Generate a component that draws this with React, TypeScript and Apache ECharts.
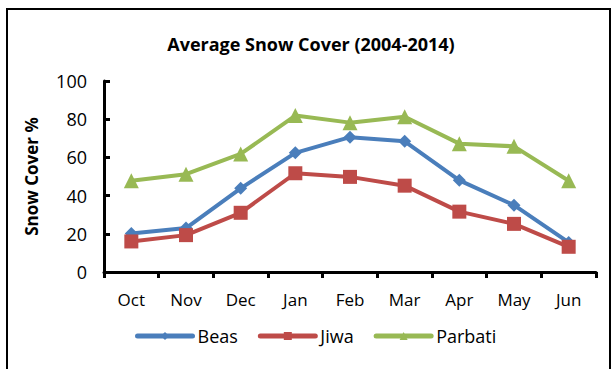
import React, { useEffect, useRef } from "react";
import * as echarts from "echarts";

const months = ["Oct", "Nov", "Dec", "Jan", "Feb", "Mar", "Apr", "May", "Jun"];
const beas = [20.1, 23, 43.8, 62.4, 70.6, 68.4, 48, 35, 15.5];
const jiwa = [16, 19.3, 31, 51.7, 49.8, 45.2, 31.6, 25.2, 13.2];
const parbati = [47.8, 51.2, 61.8, 81.9, 78.2, 81.3, 67.2, 65.8, 47.8];
const yTicks = [0, 20, 40, 60, 80, 100];

const FONT = "'Open Sans', 'Noto Sans', sans-serif";

export default function App() {
  const ref = useRef<HTMLDivElement>(null);

  useEffect(() => {
    if (!ref.current) return;
    const chart = echarts.init(ref.current, null, { renderer: "svg" });

    const mk = (name: string, data: number[], color: string, symbol: string, size: number) => ({
      name,
      type: "line",
      data,
      symbol,
      symbolSize: size,
      lineStyle: { color, width: 4 },
      itemStyle: { color },
      emphasis: { disabled: true },
    });

    chart.setOption({
      animation: false,
      backgroundColor: "#ffffff",
      title: {
        text: "Average Snow Cover (2004-2014)",
        left: 311,
        top: 35,
        padding: 0,
        textAlign: "center",
        textStyle: { fontFamily: FONT, fontSize: 18, fontWeight: "bold", color: "#000" },
      },
      graphic: [
        {
          type: "rect",
          shape: { x: 7, y: 9, width: 603, height: 400 },
          style: { fill: "none", stroke: "#000", lineWidth: 2 },
          silent: true,
        },
      ],
      legend: {
        left: 135,
        top: 327,
        padding: 0,
        itemWidth: 55,
        itemHeight: 10,
        itemGap: 20,
        lineStyle: { width: 5, cap: "round" },
        textStyle: { fontFamily: FONT, fontSize: 18, color: "#000" },
        data: ["Beas", "Jiwa", "Parbati"],
      },
      grid: { left: 104, right: 18, top: 81, bottom: 97 },
      xAxis: {
        type: "category",
        data: months,
        boundaryGap: true,
        axisLine: { lineStyle: { color: "#000", width: 3 } },
        axisTick: { show: true, inside: false, length: 6, lineStyle: { color: "#000", width: 3 } },
        axisLabel: { fontFamily: FONT, fontSize: 17, color: "#000", margin: 19 },
        splitLine: { show: false },
      },
      yAxis: {
        type: "value",
        min: yTicks[0],
        max: yTicks[yTicks.length - 1],
        interval: 20,
        name: "Snow Cover %",
        nameLocation: "middle",
        nameGap: 64,
        nameRotate: 90,
        nameTextStyle: { fontFamily: FONT, fontSize: 17, fontWeight: "bold", color: "#000" },
        axisLine: { show: true, lineStyle: { color: "#000", width: 3 } },
        axisTick: { show: true, inside: true, length: 6, lineStyle: { color: "#000", width: 3 } },
        axisLabel: { fontFamily: FONT, fontSize: 18, color: "#000", margin: 17 },
        splitLine: { show: false },
      },
      series: [
        mk("Beas", beas, "#4A7EBB", "diamond", 13),
        mk("Jiwa", jiwa, "#BE4B48", "rect", 14),
        mk("Parbati", parbati, "#98B954", "triangle", 15),
      ],
    });

    return () => chart.dispose();
  }, []);

  return <div ref={ref} style={{ width: 614, height: 369, position: "absolute", left: 0, top: 0 }} />;
}
